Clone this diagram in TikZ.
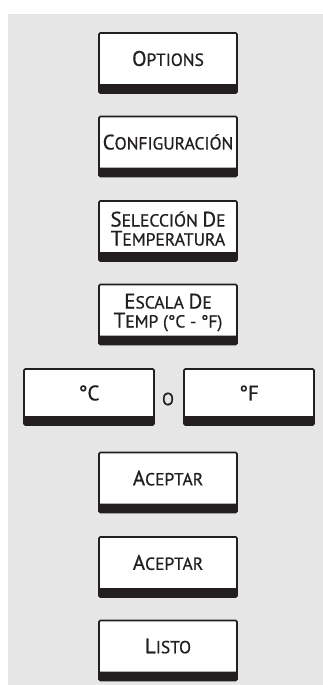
\documentclass[tikz,border=0pt]{standalone}
\usepackage{fontspec}
\setmainfont{PT Sans}[FakeBold=0.7]
\definecolor{bgcol}{HTML}{E6E6E6}
\definecolor{ink}{HTML}{231F20}
\newcommand\capA[1]{{\fontsize{21}{19}\selectfont #1}}
\newcommand\capB[1]{{\fontsize{17.5}{19}\selectfont #1}}
\tikzset{
  btnbox/.style={draw=ink, fill=white, line width=1.6pt, rounded corners=1.2pt,
    minimum width=138pt, minimum height=60pt, inner sep=0pt,
    path picture={\fill[ink] ([yshift=-2pt]path picture bounding box.south west) rectangle ([yshift=9pt]path picture bounding box.south east);}},
  smallbox/.style={btnbox, minimum width=130pt, minimum height=56pt},
  btntext/.style={text=ink, align=center, inner sep=0pt, font=\fontsize{17.5}{19}\selectfont}
}
\begin{document}
\begin{tikzpicture}[x=1pt,y=-1pt]
\useasboundingbox (0,0) rectangle (323,685);
\fill[bgcol] (8,14) rectangle (323,685);
% boxes
\node[btnbox] (opt) at (168,63) {};
\node[btntext] (optt) at ([yshift=4.5pt]opt.center) {\capA{O}\capB{PTIONS}};
\node[btnbox] (cfg) at (168,146.5) {};
\node[btntext] (cfgt) at ([yshift=4.5pt]cfg.center) {\capA{C}\capB{ONFIGURACIÓN}};
\node[btnbox] (sel) at (168,231) {};
\node[btntext] (selt) at ([yshift=2.5pt]sel.center) {\capA{S}\capB{ELECCIÓN} \capA{D}\capB{E}\\\capA{T}\capB{EMPERATURA}};
\node[btnbox] (esc) at (168,314.5) {};
\node[btntext] (esct) at ([yshift=2pt]esc.center) {\capA{E}\capB{SCALA} \capA{D}\capB{E}\\\capA{T}\capB{EMP (°C - °F)}};
\node[smallbox] (cbox) at (89,397) {};
\node[btntext] (cboxt) at ([yshift=4pt]cbox.center) {\capA{°C}};
\node[smallbox] (fbox) at (249,397) {};
\node[btntext] (fboxt) at ([yshift=4pt]fbox.center) {\capA{°F}};
\node[btntext] (ortxt) at (168,399) {\capB{O}};
\node[btnbox] (acc1) at (168,482.5) {};
\node[btntext] (acc1t) at ([yshift=4.5pt]acc1.center) {\capA{A}\capB{CEPTAR}};
\node[btnbox] (acc2) at (168,567) {};
\node[btntext] (acc2t) at ([yshift=4.5pt]acc2.center) {\capA{A}\capB{CEPTAR}};
\node[btnbox] (lst) at (168,650.5) {};
\node[btntext] (lstt) at ([yshift=4.5pt]lst.center) {\capA{L}\capB{ISTO}};
\end{tikzpicture}
\end{document}
